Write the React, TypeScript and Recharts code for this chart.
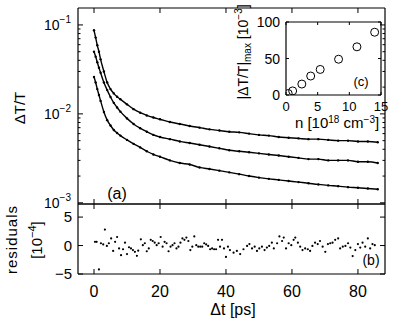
import { LineChart, Line, XAxis, YAxis, ScatterChart, Scatter } from "recharts";

const FONT = '"Liberation Sans", Arial, Helvetica, sans-serif';

// pump-probe delay [ps]
const delayPs = [
  0, 0.5, 1, 1.5, 2, 3, 4, 5, 6, 7, 8, 10, 12, 14, 16, 18, 20, 23, 26, 29, 32, 35, 38, 41, 44, 47, 50,
  53, 56, 59, 62, 65, 68, 71, 74, 77, 80, 83, 86,
];
// dT/T for the three excitation densities (highest first)
const dtHigh = [
  0.087, 0.072, 0.059, 0.05, 0.041, 0.03, 0.0225, 0.019, 0.017, 0.0156, 0.0146, 0.0128, 0.0113, 0.0103,
  0.0096, 0.0091, 0.0087, 0.0081, 0.0077, 0.0073, 0.007, 0.0067, 0.0065, 0.0063, 0.0062, 0.006, 0.0058,
  0.0057, 0.0055, 0.0054, 0.0053, 0.0052, 0.0052, 0.0051, 0.005, 0.005, 0.0049, 0.0049, 0.0048,
];
const dtMid = [
  0.05, 0.044, 0.038, 0.033, 0.029, 0.0225, 0.0185, 0.0155, 0.0133, 0.0118, 0.0106, 0.0089, 0.0077,
  0.0069, 0.0063, 0.0058, 0.0055, 0.0052, 0.0049, 0.0047, 0.0045, 0.0043, 0.0041, 0.0039, 0.0038,
  0.0037, 0.0036, 0.0035, 0.0034, 0.0033, 0.0032, 0.0031, 0.0031, 0.003, 0.003, 0.003, 0.0029, 0.0029,
  0.0028,
];
const dtLow = [
  0.026, 0.0225, 0.019, 0.0163, 0.014, 0.0105, 0.0085, 0.0074, 0.0066, 0.0061, 0.0057, 0.0051, 0.0046,
  0.0042, 0.0038, 0.0035, 0.0033, 0.003, 0.0028, 0.0027, 0.0025, 0.0024, 0.0023, 0.0022, 0.0021, 0.002,
  0.00192, 0.00186, 0.00181, 0.00176, 0.00171, 0.00166, 0.00161, 0.00157, 0.00154, 0.0015, 0.00148,
  0.00145, 0.00142,
];

// fit residuals, units of 1e-4
const residT = [
  0.3, 0.8, 1.5, 2.1, 2.8, 3.3, 3.9, 4.5, 5.2, 5.8, 6.4, 7.0, 7.6, 8.2, 8.8, 9.4, 10.0, 10.6, 11.2, 11.8,
  12.4, 13.0, 13.4, 14.2, 14.8, 15.4, 16.0, 16.6, 17.2, 17.8, 18.4, 19.0, 19.6, 20.2, 20.8, 21.4, 22.0,
  22.6, 23.2, 23.8, 24.4, 25.0, 25.6, 26.2, 26.8, 27.4, 28.0, 28.6, 29.2, 29.8, 30.4, 31.0, 31.6, 32.2,
  32.8, 33.4, 34.0, 34.6, 35.2, 35.8, 36.4, 37.0, 37.6, 38.2, 38.8, 39.4, 40.0, 40.6, 41.2, 42.3, 43.3,
  44.3, 45.3, 46.4, 47.1, 47.9, 48.7, 49.4, 50.1, 50.9, 51.7, 52.4, 53.1, 53.9, 54.5, 55.5, 56.2, 57.0,
  57.5, 58.2, 59.0, 59.8, 60.5, 61.0, 61.8, 62.5, 63.2, 64.0, 64.8, 65.5, 66.2, 67.0, 67.8, 68.5, 69.3,
  70.1, 70.9, 71.6, 72.3, 73.1, 74.0, 74.6, 75.4, 76.2, 77.0, 77.7, 78.4, 79.2, 80.0, 80.7, 81.4, 82.2,
  83.0, 83.7, 84.4, 85.1,
];
const residV = [
  0.65, 0.65, -4.2, 0.4, 0.2, 2.8, -0.06, 0.4, 1.25, -0.95, 0.65, 1.5, -0.5, -1.7, -0.65, 0.5, -1.5, -0.3,
  -0.5, -0.8, -1.1, -1.8, -0.9, 1.1, 0.06, 0.4, -1.0, -0.5, 1.0, 0.8, 0.5, 0.06, 0.4, 1.5, -0.2, 0.65, 0.4,
  -1.0, -0.2, 0.06, 0.4, -0.5, -0.2, 0.5, 1.25, 1.0, 1.4, 0.8, -0.8, -0.2, 1.6, 0.06, -0.2, -0.2, -0.2,
  0.4, 0.2, -0.06, -0.65, -0.5, -0.65, -0.65, 1.0, -0.2, 1.0, -0.5, -2.0, -0.2, -0.8, -1.25, -0.95, -1.5,
  -0.65, -0.06, 0.25, -0.5, -0.2, -0.95, -0.5, -0.2, -0.8, -0.35, -0.06, 0.5, -0.5, 0.4, 1.6, 0.8, 1.4,
  -0.5, 0.4, 0.06, 1.0, 1.4, 0.5, -0.2, -0.8, -0.5, -0.65, -0.95, -0.06, 0.5, 0.25, 0.8, -0.2, -1.1, 0.25,
  0.4, 0.5, 1.0, 1.25, -0.5, -0.2, -0.06, 0.4, -0.35, -1.85, -0.8, 0.25, -0.35, 0.5, -0.2, 1.25, -0.5,
  0.25, 0.06,
];

// inset: peak signal vs carrier density
const carrierN = [0.35, 1.05, 2.5, 3.9, 5.4, 8.3, 11.2, 14.0];
const peakSignal = [2, 5.6, 15, 26, 35, 49, 66, 86];

const timeTicks = [0, 20, 40, 60, 80];
const logTicks = [
  0.001, 0.002, 0.003, 0.004, 0.005, 0.006, 0.007, 0.008, 0.009, 0.01, 0.02, 0.03, 0.04, 0.05, 0.06,
  0.07, 0.08, 0.09, 0.1,
];
const logLabels = [0.001, 0.01, 0.1];
const residTicks = [-5, 0, 5];
const insetXTicks = [0, 5, 10, 15];
const insetYTicks = [0, 50, 100];

const W = 395;
const H = 326;
const T_DOMAIN: [number, number] = [-4.85, 88.2];
const AXIS = { stroke: "#000", strokeWidth: 1.2 };

const mainRows = delayPs.map((t, i) => ({ t, high: dtHigh[i], mid: dtMid[i], low: dtLow[i] }));
const residRows = residT.map((t, i) => ({ t, r: residV[i] }));
const insetRows = carrierN.map((n, i) => ({ n, p: peakSignal[i] }));

const layer: React.CSSProperties = { position: "absolute", left: 0, top: 0 };

// plot box [left, top, right, bottom] in px; axes take 1px each outside it
const margins = (l: number, t: number, r: number, b: number) => ({
  left: l - 1,
  top: t - 1,
  right: W - r - 1,
  bottom: H - b - 1,
});

// tick helpers, all ticks point into the box
const hTick = (len: number) => (p: any) => (
  <line x1={p.x} x2={p.x} y1={p.y} y2={p.y + len} stroke="#000" strokeWidth={1} />
);
const vTick = (len: number) => (p: any) => (
  <line x1={p.x} x2={p.x + len} y1={p.y} y2={p.y} stroke="#000" strokeWidth={1} />
);

const LogTickLeft = (p: any) => {
  const v = p.payload.value;
  const major = logLabels.includes(v);
  const exp = Math.round(Math.log10(v));
  return (
    <g>
      <line x1={p.x} x2={p.x + (major ? 5 : 2.5)} y1={p.y} y2={p.y} stroke="#000" strokeWidth={1} />
      {major && (
        <text x={p.x - 7} y={p.y + 5} textAnchor="end" fontSize={14} fontFamily={FONT} fill="#000">
          10<tspan dy={-7} fontSize={10}>{"\u2212" + Math.abs(exp)}</tspan>
        </text>
      )}
    </g>
  );
};
const LogTickRight = (p: any) => {
  const major = logLabels.includes(p.payload.value);
  return <line x1={p.x} x2={p.x - (major ? 5 : 2.5)} y1={p.y} y2={p.y} stroke="#000" strokeWidth={1} />;
};

const labelTickBottom = (len: number, dy: number, size: number) => (p: any) => (
  <g>
    <line x1={p.x} x2={p.x} y1={p.y} y2={p.y - len} stroke="#000" strokeWidth={1} />
    <text x={p.x} y={p.y + dy} textAnchor="middle" fontSize={size} fontFamily={FONT} fill="#000">
      {String(p.payload.value).replace("-", "\u2212")}
    </text>
  </g>
);
const labelTickLeft = (len: number, dx: number, size: number) => (p: any) => (
  <g>
    <line x1={p.x} x2={p.x + len} y1={p.y} y2={p.y} stroke="#000" strokeWidth={1} />
    <text x={p.x - dx} y={p.y + 5} textAnchor="end" fontSize={size} fontFamily={FONT} fill="#000">
      {String(p.payload.value).replace("-", "\u2212")}
    </text>
  </g>
);

const Dot = (p: any) => <circle cx={p.cx} cy={p.cy} r={1.1} fill="#000" />;
const Ring = (p: any) => <circle cx={p.cx} cy={p.cy} r={4} fill="none" stroke="#000" strokeWidth={1} />;

const lineProps = {
  type: "monotone" as const,
  stroke: "#000",
  strokeWidth: 1.4,
  dot: { r: 1.2, fill: "#000", stroke: "#000", strokeWidth: 0 },
  isAnimationActive: false,
};

const axisBase = {
  type: "number" as const,
  allowDataOverflow: true,
  interval: 0 as const,
  tickSize: 0,
  tickMargin: 0,
  tickLine: false,
  axisLine: AXIS,
};

const Labels = () => (
  <svg width={W} height={H} style={{ ...layer, pointerEvents: "none" }} fontFamily={FONT} fill="#000">
    <text x={25} y={108} transform="rotate(-90 25 108)" textAnchor="middle" fontSize={15}>
      ΔT/T
    </text>
    <text x={17} y={240} transform="rotate(-90 17 240)" textAnchor="middle" fontSize={15} textLength={68} lengthAdjust="spacing">
      residuals
    </text>
    <text x={42} y={240} transform="rotate(-90 42 240)" textAnchor="middle" fontSize={15}>
      [10<tspan dy={-6} fontSize={11}>{"\u22124"}</tspan>
      <tspan dy={6}>]</tspan>
    </text>
    <text x={233} y={315} textAnchor="middle" fontSize={16}>
      Δt [ps]
    </text>
    <text x={117} y={199} textAnchor="middle" fontSize={16}>
      (a)
    </text>
    <text x={371} y={265} textAnchor="middle" fontSize={14}>
      (b)
    </text>
    <text x={361} y={86} textAnchor="middle" fontSize={13}>
      (c)
    </text>
    <text x={248} y={52} transform="rotate(-90 248 52)" textAnchor="middle" fontSize={14}>
      |ΔT/T|<tspan dy={3} fontSize={10}>max</tspan>
      <tspan dy={-3}> [10</tspan>
      <tspan dy={-6} fontSize={10}>{"\u22123"}</tspan>
      <tspan dy={6}>]</tspan>
    </text>
    <text x={337} y={128} textAnchor="middle" fontSize={15}>
      n [10<tspan dy={-5} fontSize={10}>18</tspan>
      <tspan dy={5}> cm</tspan>
      <tspan dy={-5} fontSize={10}>{"\u22123"}</tspan>
      <tspan dy={5}>]</tspan>
    </text>
  </svg>
);

export default function App() {
  return (
    <div style={{ ...layer, width: W, height: H, background: "#fff" }}>
      <div style={layer}>
        <LineChart width={W} height={H} data={mainRows} margin={margins(78, 8, 385, 204)}>
          <XAxis {...axisBase} dataKey="t" domain={T_DOMAIN} ticks={timeTicks} height={1} tick={hTick(-5)} />
          <XAxis {...axisBase} xAxisId="top" orientation="top" dataKey="t" domain={T_DOMAIN} ticks={timeTicks}
            height={1} tick={hTick(5)} />
          <YAxis {...axisBase} scale="log" domain={[0.00097, 0.155]} ticks={logTicks} width={1} tick={LogTickLeft} />
          <YAxis {...axisBase} yAxisId="r" orientation="right" scale="log" domain={[0.00097, 0.155]} ticks={logTicks}
            width={1} tick={LogTickRight} />
          <Line dataKey="high" {...lineProps} />
          <Line dataKey="mid" {...lineProps} />
          <Line dataKey="low" {...lineProps} />
        </LineChart>
      </div>
      <div style={layer}>
        <ScatterChart width={W} height={H} margin={margins(78, 204, 385, 274)}>
          <XAxis {...axisBase} dataKey="t" domain={T_DOMAIN} ticks={timeTicks} height={1}
            tick={labelTickBottom(5, 23, 16)} />
          <XAxis {...axisBase} xAxisId="top" orientation="top" dataKey="t" domain={T_DOMAIN} ticks={timeTicks}
            height={1} tick={hTick(5)} />
          <YAxis {...axisBase} dataKey="r" domain={[-5, 7.3]} ticks={residTicks} width={1}
            tick={labelTickLeft(5, 6, 15)} />
          <YAxis {...axisBase} yAxisId="r" orientation="right" dataKey="r" domain={[-5, 7.3]} ticks={residTicks}
            width={1} tick={vTick(-5)} />
          <Scatter data={residRows} shape={Dot} isAnimationActive={false} />
        </ScatterChart>
      </div>
      <div style={layer}>
        <ScatterChart width={W} height={H} margin={margins(286, 22, 381, 95)}>
          <XAxis {...axisBase} dataKey="n" domain={[0, 15]} ticks={insetXTicks} height={1}
            tick={labelTickBottom(3, 16, 13)} />
          <XAxis {...axisBase} xAxisId="top" orientation="top" dataKey="n" domain={[0, 15]} ticks={insetXTicks}
            height={1} tick={hTick(3)} />
          <YAxis {...axisBase} dataKey="p" domain={[0, 100]} ticks={insetYTicks} width={1}
            tick={labelTickLeft(3, 6, 14)} />
          <YAxis {...axisBase} yAxisId="r" orientation="right" dataKey="p" domain={[0, 100]} ticks={insetYTicks}
            width={1} tick={vTick(-3)} />
          <Scatter data={insetRows} shape={Ring} isAnimationActive={false} />
        </ScatterChart>
      </div>
      <Labels />
    </div>
  );
}
